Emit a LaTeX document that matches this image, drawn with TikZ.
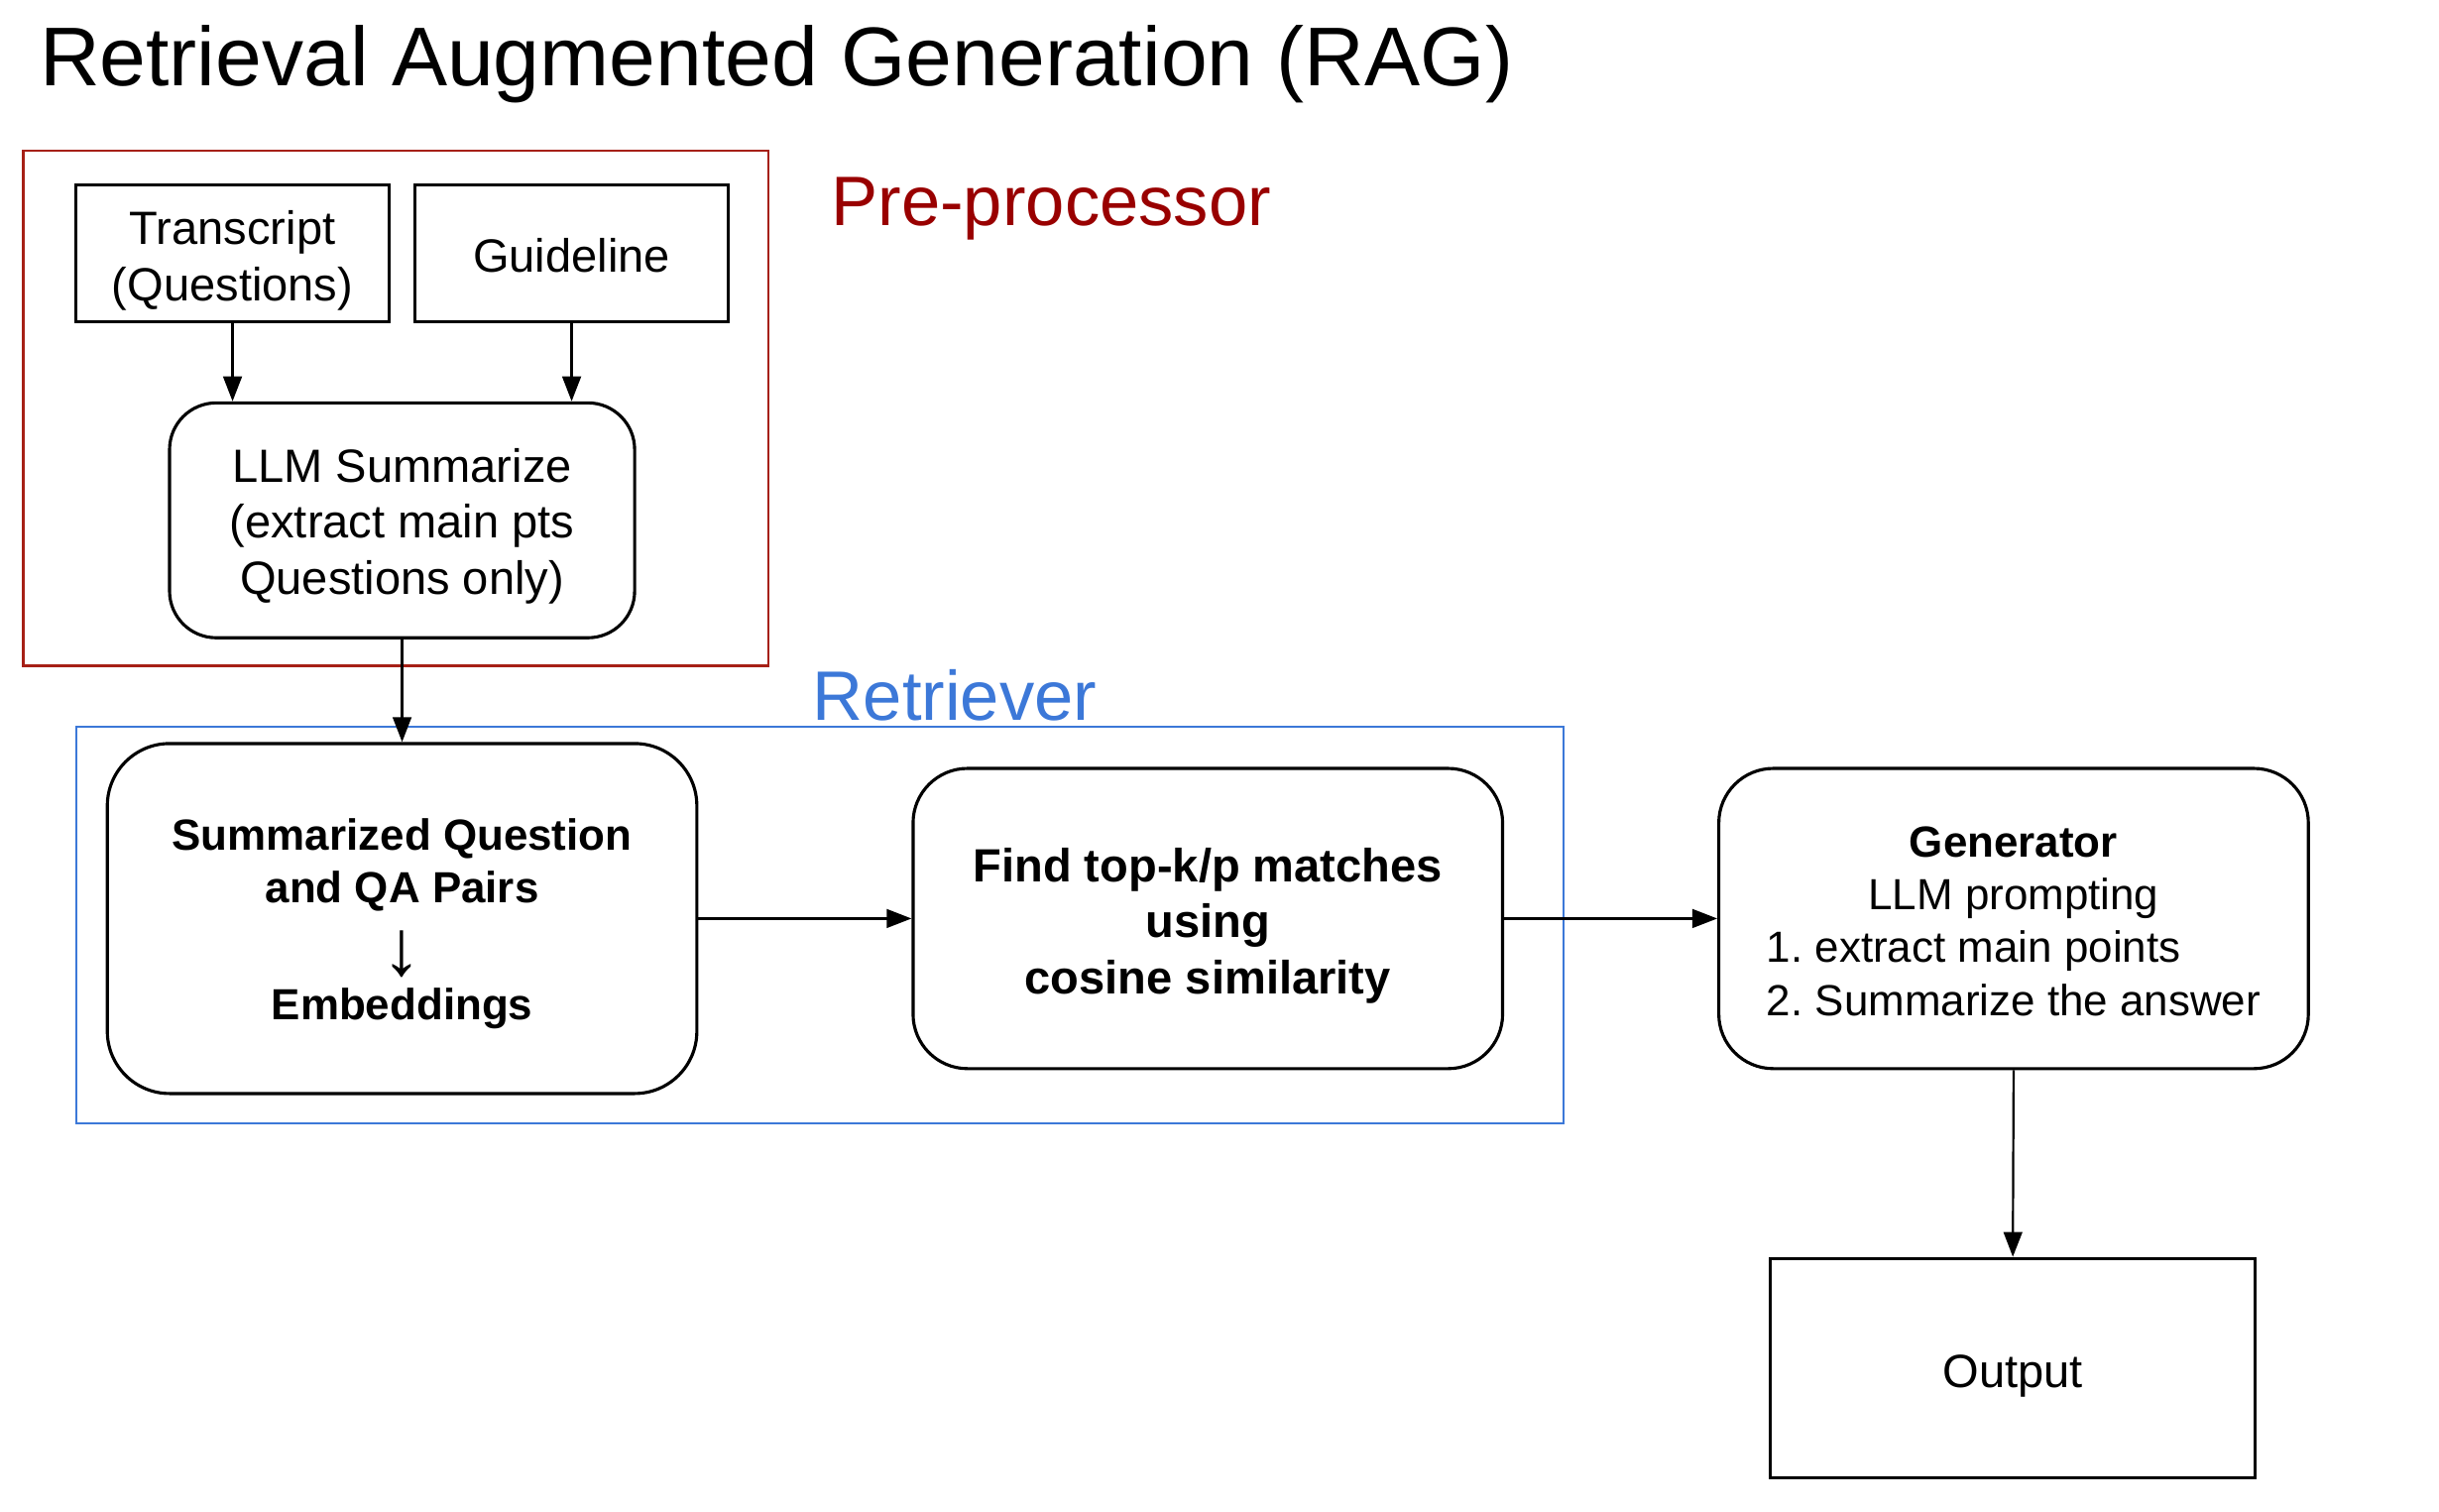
\documentclass[tikz,border=0pt]{standalone}
\usepackage{fontspec}
\setmainfont{Liberation Sans}
\usepackage{calc}
\usetikzlibrary{arrows.meta}
\definecolor{prered}{RGB}{166,32,22}
\definecolor{pretext}{RGB}{153,0,0}
\definecolor{retblue}{RGB}{60,120,216}
\tikzset{
	plainbox/.style={draw, line width=2pt, rectangle, inner sep=0pt, align=center, font=\fontsize{30}{36}\selectfont},
	roundbox/.style={plainbox, rounded corners=#1},
	groupbox/.style={draw=#1, line width=1.4pt},
	flowarrow/.style={-{Triangle[length=16pt,width=12pt]}, line width=1.4pt},
}
\newcommand{\topstrut}[1][0.9]{\rule{0pt}{#1em}}
\newcommand{\downglyph}{\raisebox{-10.5pt}[0pt][0pt]{\resizebox*{!}{30pt}{\raisebox{\depth}{↓}}}}
\frenchspacing

\begin{document}
\begin{tikzpicture}[x=1pt, y=-1pt]
			%%%%% START %%%%%
			
			\useasboundingbox (0, 0) rectangle (1568, 971.4);
			
			\node[anchor=base west, font=\fontsize{53.6}{60}\selectfont] (title) at (22, 55) {Retrieval Augmented Generation (RAG)};
			
			\draw[groupbox=prered] (15, 97) rectangle (494, 428);
			\node[anchor=base west, text=pretext, font=\fontsize{45}{54}\selectfont] (prelabel) at (531, 145) {Pre-processor};
			
			\node[plainbox, minimum width=201, minimum height=88] (trans) at (149.5, 163) {\topstrut[1.02]Transcript\\(Questions)};
			\node[plainbox, minimum width=201, minimum height=88] (guide) at (367.5, 163) {\topstrut[0.8]Guideline};
			\node[roundbox=30pt, minimum width=299, minimum height=151] (llm) at (258.5, 334.5) {\topstrut[0.98]LLM Summarize\\(extract main pts\\Questions only)};
			
			\draw[groupbox=retblue] (49, 467) rectangle (1005, 722);
			\node[anchor=base west, text=retblue, font=\fontsize{45}{54}\selectfont] (retlabel) at (519, 463) {Retriever};
			
			\node[roundbox=40pt, minimum width=379, minimum height=225, font=\fontsize{28}{34}\bfseries] (summ) at (258.5, 590.5) {\topstrut[0.96]Summarized Question\\and QA Pairs\\[3.5pt]{\mdseries\downglyph}\\[3.5pt]Embeddings};
			\node[roundbox=35pt, minimum width=379, minimum height=193, font=\fontsize{30}{36}\bfseries] (find) at (776.5, 590.5) {\topstrut[1.03]Find top-k/p matches\\using\\cosine similarity};
			
			\node[roundbox=35pt, minimum width=379, minimum height=193, font=\fontsize{28}{34}\selectfont] (gen) at (1294.5, 590.5) {\topstrut[0.82]\textbf{Generator}\\LLM prompting\\\makebox[\widthof{2. Summarize the answer}][l]{1. extract main points}\\2. Summarize the answer};
			\node[plainbox, minimum width=312, minimum height=141] (out) at (1294, 879.5) {\topstrut[1.03]Output};
			
			\draw[flowarrow] (trans.south) -- (trans.south |- llm.north);
			\draw[flowarrow] (guide.south) -- (guide.south |- llm.north);
			\draw[flowarrow] (llm.south) -- (summ.north);
			\draw[flowarrow] (summ.east) -- (find.west);
			\draw[flowarrow] (find.east) -- (gen.west);
			\draw[flowarrow] (gen.south) -- (out.north);
			
			%%%%% END %%%%%
\end{tikzpicture}
\end{document}
